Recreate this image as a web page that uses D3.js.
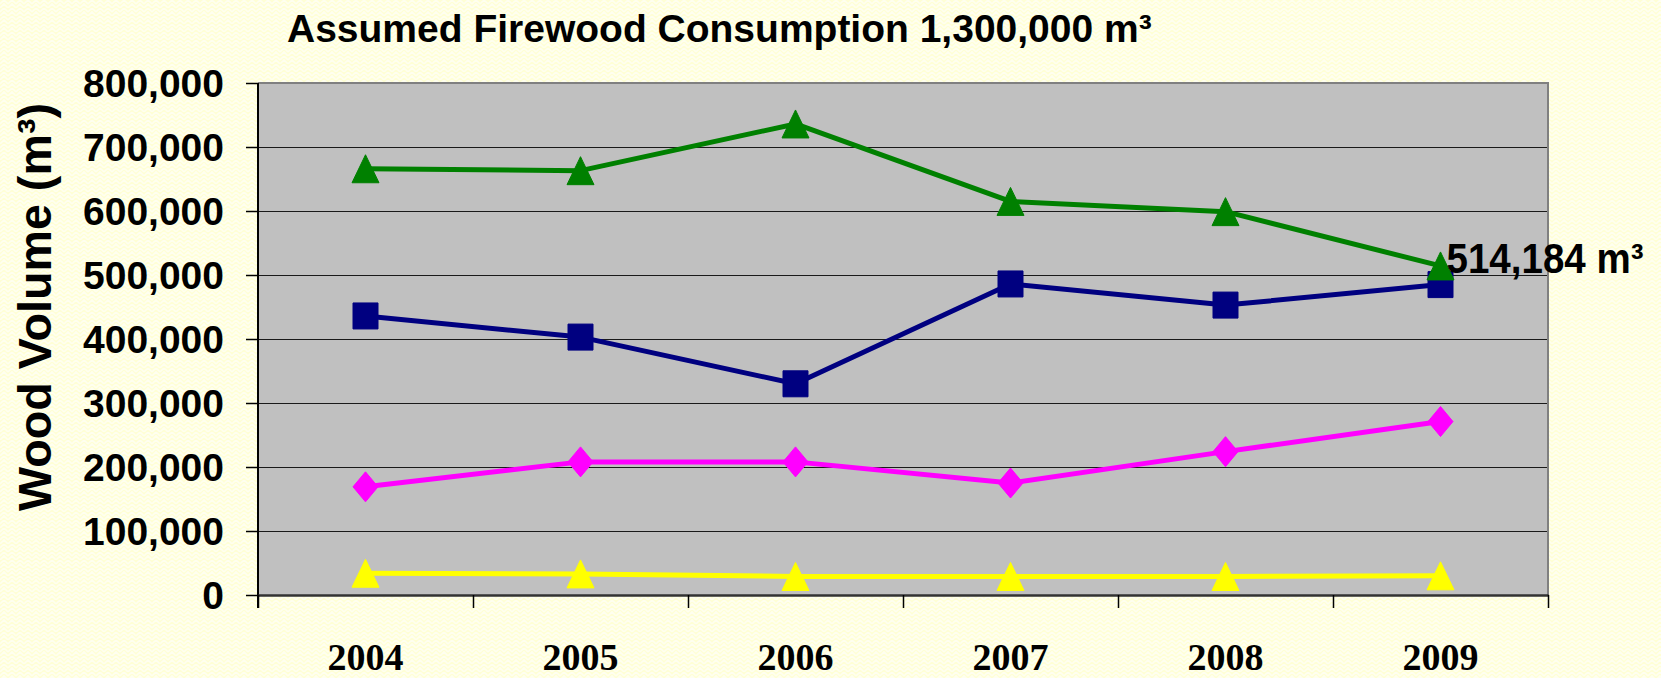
<!DOCTYPE html>
<html>
<head>
<meta charset="utf-8">
<script src="https://cdn.jsdelivr.net/npm/d3@7"></script>
<style>
    body { margin: 0; background: #ffffdc; }
    text { font-family: "Liberation Sans", Arial, sans-serif; font-weight: bold; fill: #000; }
    .x.axis text { font-family: "Liberation Serif", "Times New Roman", serif; font-size: 38px; }
    .y.axis text { font-size: 39px; }
</style>
</head>
<body>
<div id="main"></div>
<script>
// chart values
const years = ['2004', '2005', '2006', '2007', '2008', '2009'];
const greenVolumes = [666000, 663000, 736000, 615000, 599000, 514184];
const navyVolumes = [436000, 403000, 330000, 486000, 453000, 485000];
const magentaVolumes = [169000, 208000, 208000, 175000, 224000, 271000];
const yellowVolumes = [34000, 33000, 29000, 29000, 29000, 30000];
const yTicks = [0, 100000, 200000, 300000, 400000, 500000, 600000, 700000, 800000];

const titleText = 'Assumed Firewood Consumption 1,300,000 m³';
const yTitleText = 'Wood Volume (m³)';
const noteText = '514,184 m³';

const W = 1661, H = 678;
const plot = {left: 258, right: 1548, top: 83, bottom: 595};

const svg = d3.select('#main').append('svg')
    .attr('width', W)
    .attr('height', H);

// textured light yellow background
const defs = svg.append('defs');
const pat = defs.append('pattern')
    .attr('id', 'weave')
    .attr('patternUnits', 'userSpaceOnUse')
    .attr('width', 8)
    .attr('height', 8);
pat.append('rect').attr('width', 8).attr('height', 8).attr('fill', '#ffffd6');
pat.append('path')
    .attr('d', 'M0,4 L4,0 L8,4 M0,8 L4,4 L8,8')
    .attr('fill', 'none')
    .attr('stroke', '#fffff0')
    .attr('stroke-width', 1.6);
svg.append('rect').attr('width', W).attr('height', H).attr('fill', 'url(#weave)');

const x = d3.scaleBand()
    .domain(years)
    .range([plot.left, plot.right]);

const xEdge = d3.scaleLinear()
    .domain([0, years.length])
    .range([plot.left, plot.right]);

const y = d3.scaleLinear()
    .domain([0, 800000])
    .range([plot.bottom, plot.top]);

const cx = d => x(d) + x.bandwidth() / 2;

// plot area
svg.append('rect')
    .attr('x', plot.left)
    .attr('y', plot.top)
    .attr('width', plot.right - plot.left)
    .attr('height', plot.bottom - plot.top)
    .attr('fill', '#c0c0c0');

// gridlines
svg.append('g')
    .attr('class', 'grid')
    .attr('transform', 'translate(' + plot.left + ',0)')
    .call(d3.axisLeft(y).tickValues(yTicks.slice(1, -1)).tickSize(-(plot.right - plot.left)).tickFormat(''))
    .call(g => g.select('.domain').remove())
    .call(g => g.selectAll('line').attr('stroke', '#1a1a1a').attr('stroke-width', 1));

// top and right border
svg.append('path')
    .attr('d', 'M' + plot.left + ',' + plot.top + 'H' + plot.right + 'V' + plot.bottom)
    .attr('fill', 'none')
    .attr('stroke', '#808080')
    .attr('stroke-width', 2);

// y axis
const yAxis = svg.append('g')
    .attr('class', 'y axis')
    .attr('transform', 'translate(' + plot.left + ',0)')
    .call(d3.axisLeft(y).tickValues(yTicks).tickSize(12).tickSizeOuter(0).tickPadding(22).tickFormat(d3.format(',')));
yAxis.select('.domain').attr('stroke', '#000').attr('stroke-width', 2)
    .attr('d', 'M0,' + plot.top + 'V' + (plot.bottom + 13));
yAxis.selectAll('.tick line').attr('stroke', '#000').attr('stroke-width', 1.5);
yAxis.selectAll('text').attr('dy', '0.35em');

// x axis: boundary ticks
const xTickAxis = svg.append('g')
    .attr('transform', 'translate(0,' + plot.bottom + ')')
    .call(d3.axisBottom(xEdge).tickValues(d3.range(years.length + 1)).tickSize(13).tickSizeOuter(0).tickFormat(''));
xTickAxis.select('.domain').attr('stroke', '#333').attr('stroke-width', 2.5);
xTickAxis.selectAll('.tick line').attr('stroke', '#000').attr('stroke-width', 1.5);

// x axis: year labels
svg.append('g')
    .attr('class', 'x axis')
    .attr('transform', 'translate(0,' + plot.bottom + ')')
    .call(d3.axisBottom(x).tickSize(0).tickPadding(48))
    .call(g => g.select('.domain').remove());

// series
const line = d3.line()
    .x((d, i) => cx(years[i]))
    .y(d => y(d));

function triangle(px, py) {
    return 'M' + px + ',' + (py - 14) + 'L' + (px + 13.5) + ',' + (py + 14) + 'L' + (px - 13.5) + ',' + (py + 14) + 'Z';
}

function diamond(px, py) {
    return 'M' + px + ',' + (py - 15) + 'L' + (px + 12.5) + ',' + py + 'L' + px + ',' + (py + 15) + 'L' + (px - 12.5) + ',' + py + 'Z';
}

function square(px, py) {
    return 'M' + (px - 12.5) + ',' + (py - 13) + 'h25v26h-25Z';
}

const series = [
    {values: yellowVolumes, color: '#ffff00', marker: triangle},
    {values: magentaVolumes, color: '#ff00ff', marker: diamond},
    {values: navyVolumes, color: '#000080', marker: square},
    {values: greenVolumes, color: '#008000', marker: triangle}
];

series.forEach(function (s) {
    const g = svg.append('g');
    g.append('path')
        .datum(s.values)
        .attr('d', line)
        .attr('fill', 'none')
        .attr('stroke', s.color)
        .attr('stroke-width', 5)
        .attr('stroke-linejoin', 'round');
    g.selectAll('.marker')
        .data(s.values)
        .enter()
        .append('path')
        .attr('class', 'marker')
        .attr('d', (d, i) => s.marker(cx(years[i]), y(d)))
        .attr('fill', s.color)
        .attr('stroke', s.color)
        .attr('stroke-width', 1)
        .attr('stroke-linejoin', 'round');
});

// note on last green point
const last = years.length - 1;
svg.append('text')
    .attr('x', cx(years[last]) + 6)
    .attr('y', y(greenVolumes[last]) + 7)
    .attr('font-size', 42)
    .attr('textLength', 197)
    .attr('lengthAdjust', 'spacingAndGlyphs')
    .text(noteText);

// title
svg.append('text')
    .attr('x', 287)
    .attr('y', 42)
    .attr('font-size', 39)
    .text(titleText);

// y title
svg.append('text')
    .attr('transform', 'translate(51,307) rotate(-90)')
    .attr('text-anchor', 'middle')
    .attr('font-size', 46)
    .attr('textLength', 408)
    .attr('lengthAdjust', 'spacingAndGlyphs')
    .text(yTitleText);
</script>
</body>
</html>
